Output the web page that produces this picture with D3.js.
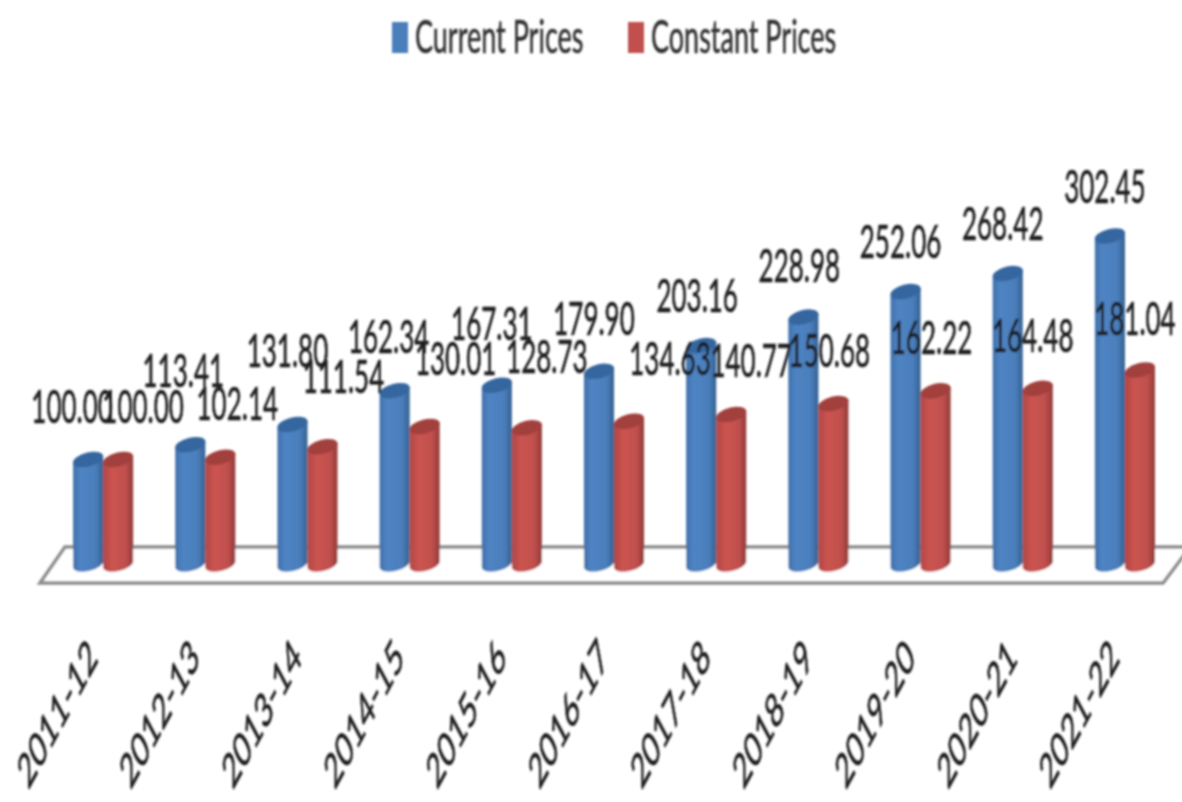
<!DOCTYPE html>
<meta charset="utf-8">
<style>
body { margin: 0; background: #fff; }
text { font-family: Lato, "Open Sans", sans-serif; fill: #1c1c1c; stroke: #1c1c1c; stroke-width: 0.35px; }
</style>
<body>
<script src="https://d3js.org/d3.v7.min.js"></script>
<script>

// the data
var years = ["2011-12","2012-13","2013-14","2014-15","2015-16","2016-17","2017-18","2018-19","2019-20","2020-21","2021-22"];
var currentPrices = [100.00,113.41,131.80,162.34,167.31,179.90,203.16,228.98,252.06,268.42,302.45];
var constantPrices = [100.00,102.14,111.54,130.01,128.73,134.63,140.77,150.68,162.22,164.48,181.04];
var seriesNames = ["Current Prices","Constant Prices"];

// hand placed data labels, offset from the top of each bar
var currentNudge = [[-16,-37],[-7,-58],[-5,-57],[-6,-38],[-5,-45],[-5,-36],[-4,-34],[-4,-35],[-5,-34],[-5,-34],[-5,-33]];
var constantNudge = [[25,-37],[17,-37],[21,-54],[31,-51],[20,-55],[41,-46],[20,-38],[-4,-37],[-4,-37],[-5,-36],[-5,-35]];

var width = 1182, height = 802;
var stretch = 1.75; // the whole picture is stretched vertically
var axisStretch = 1.85;
var floorFront = 583, floorBack = 547;

var x = d3.scaleBand().domain(years).range([52, 1176]);
var x1 = d3.scalePoint().domain(seriesNames).range([-15, 15]);
var y = d3.scaleLinear().domain([0, 302.45]).range([570, 236]);
var color = d3.scaleOrdinal().domain(seriesNames).range(["#4a7ebb","#c0504d"]);

var svg = d3.select("body").append("svg")
    .attr("width", width)
    .attr("height", height)
    .style("display", "block");

// the original is a soft upscaled image
var defs = svg.append("defs");
defs.append("filter").attr("id", "soft")
    .attr("x", "-5%").attr("y", "-5%").attr("width", "110%").attr("height", "110%")
  .append("feGaussianBlur").attr("stdDeviation", 1);

function gradient(id, stops) {
  var g = defs.append("linearGradient").attr("id", id);
  stops.forEach(function(s) {
    g.append("stop").attr("offset", s[0]).attr("stop-color", s[1]);
  });
}
gradient("blueBody", [[0,"#3f70aa"],[0.25,"#4f84c4"],[0.75,"#4a7ebb"],[1,"#33608f"]]);
gradient("redBody", [[0,"#b04744"],[0.3,"#cb5350"],[0.75,"#c0504d"],[1,"#8f3a38"]]);

var chart = svg.append("g").attr("filter", "url(#soft)");

// floor of the 3d chart
var floorL = x.range()[0], floorR = x.range()[1];
var floor = d3.path();
floor.moveTo(floorL - 12, floorFront);
floor.lineTo(floorR - 13, floorFront);
floor.lineTo(floorR + 14, floorBack);
floor.lineTo(floorL + 13, floorBack);
floor.closePath();
chart.append("path")
    .attr("d", floor.toString())
    .attr("fill", "#fff")
    .attr("stroke", "#8c8c8c")
    .attr("stroke-width", 3.5);

// a slanted cylinder from the baseline up to the value
var rx = 15.5, ry = 7, tilt = -14;
var edgeX = rx * Math.cos(tilt * Math.PI / 180), edgeY = rx * Math.sin(-tilt * Math.PI / 180);
function cylinder(cx, top) {
  var bottom = y(0) - 6;
  return "M" + (cx - edgeX) + "," + (top + edgeY)
    + "L" + (cx - edgeX) + "," + (bottom + edgeY)
    + "A" + rx + "," + ry + " " + tilt + " 0 0 " + (cx + edgeX) + "," + (bottom - edgeY)
    + "L" + (cx + edgeX) + "," + (top - edgeY)
    + "Z";
}

function drawSeries(name, values, bodyId, capColor) {
  var g = chart.append("g");
  var cx = function(i) { return x(years[i]) + x.bandwidth() / 2 + x1(name); };
  values.forEach(function(v, i) {
    g.append("path")
        .attr("d", cylinder(cx(i), y(v)))
        .attr("fill", "url(#" + bodyId + ")");
    g.append("ellipse")
        .attr("rx", rx)
        .attr("ry", ry)
        .attr("transform", "translate(" + cx(i) + "," + y(v) + ") rotate(" + tilt + ")")
        .attr("fill", capColor);
  });
}
drawSeries(seriesNames[0], currentPrices, "blueBody", "#34669f");
drawSeries(seriesNames[1], constantPrices, "redBody", "#a23f3d");

// data labels, drawn last as they run over the bars
function drawLabels(name, values, nudge) {
  values.forEach(function(v, i) {
    var lx = x(years[i]) + x.bandwidth() / 2 + x1(name) + nudge[i][0];
    var ly = y(v) + nudge[i][1];
    chart.append("text")
        .attr("transform", "translate(" + lx + "," + ly + ") scale(1," + stretch + ")")
        .attr("text-anchor", "middle")
        .style("font-size", "26px")
        .text(v.toFixed(2));
  });
}
drawLabels(seriesNames[0], currentPrices, currentNudge);
drawLabels(seriesNames[1], constantPrices, constantNudge);

// x axis, rotated labels
var axis = chart.append("g")
    .attr("transform", "translate(0,640)")
    .call(d3.axisBottom(x).tickSize(0));
axis.select(".domain").remove();
axis.selectAll("text")
    .attr("x", 0)
    .attr("y", 0)
    .attr("dy", 0)
    .attr("text-anchor", "end")
    .attr("transform", "translate(-4,20) scale(1," + axisStretch + ") rotate(-45)")
    .style("font-size", "26px")
    .style("font-family", "Lato, sans-serif");

// legend
var legend = chart.append("g");
var legendSwatch = [392, 628], legendText = [415, 651];
seriesNames.forEach(function(name, i) {
  legend.append("rect")
      .attr("x", legendSwatch[i])
      .attr("y", 22)
      .attr("width", 16)
      .attr("height", 31)
      .attr("fill", color(name));
  legend.append("text")
      .attr("transform", "translate(" + legendText[i] + ",53) scale(1," + stretch + ")")
      .style("font-size", "27px")
      .style("fill", "#333")
      .style("stroke", "#333")
      .text(name);
});

</script>
</body>
